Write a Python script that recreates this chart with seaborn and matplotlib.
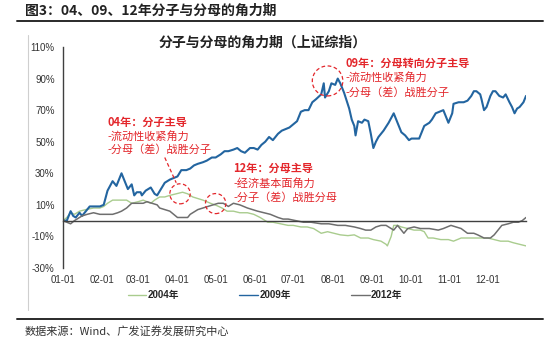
import matplotlib
matplotlib.use("Agg")
import matplotlib.pyplot as plt
import pandas as pd
import seaborn as sns
from matplotlib.patches import Ellipse
from matplotlib.lines import Line2D

# ---------------- data (day of year, cumulative return %) ----------------
series_names = ["2004年", "2009年", "2012年"]

day_2009 = [1, 4, 7, 9, 11, 14, 16, 19, 22, 25,
            30, 33, 36, 38, 40, 43, 45, 47, 50, 52,
            55, 57, 59, 62, 63, 66, 68, 70, 73, 75,
            78, 81, 85, 88, 91, 94, 98, 101, 104, 107,
            111, 114, 118, 121, 125, 128, 131, 135, 138, 141,
            144, 148, 151, 154, 157, 160, 163, 166, 170, 173,
            176, 179, 182, 185, 188, 191, 194, 197, 200, 204,
            206, 207, 210, 212, 215, 217, 219, 222, 224, 226,
            228, 230, 231, 233, 236, 238, 241, 243, 245, 247,
            249, 253, 257, 261, 264, 267, 270, 273, 275, 278,
            281, 283, 285, 289, 291, 294, 297, 300, 302, 304,
            307, 308, 312, 316, 319, 322, 324, 326, 329, 330,
            332, 334, 337, 339, 341, 344, 347, 349, 352, 354,
            356, 358, 360, 363, 365]
val_2009 = [0, 0, 6, 3, 2, 5, 3, 6, 9, 9,
            9, 10, 19, 22, 25, 22, 26, 30, 24, 20,
            23, 16, 18, 18, 16, 19, 20, 21, 17, 16,
            20, 24, 26, 27, 28, 32, 32, 33, 35, 36,
            37, 38, 40, 40, 42, 44, 44, 45, 46, 44,
            43, 46, 46, 45, 48, 50, 53, 51, 55, 57,
            58, 59, 61, 63, 69, 70, 70, 75, 77, 80,
            87, 78, 82, 87, 86, 90, 87, 81, 76, 71,
            64, 60, 54, 63, 62, 64, 63, 55, 46, 50,
            53, 57, 62, 68, 62, 56, 54, 51, 52, 52,
            52, 56, 60, 62, 64, 68, 69, 70, 66, 62,
            68, 74, 75, 75, 76, 79, 82, 82, 80, 77,
            70, 72, 79, 82, 82, 79, 78, 80, 75, 72,
            68, 71, 72, 75, 79]

day_2004 = [1, 4, 7, 10, 14, 19, 25, 30, 33, 36,
            40, 46, 51, 55, 60, 64, 70, 73, 77, 81,
            85, 90, 95, 99, 103, 107, 111, 117, 122, 126,
            130, 135, 140, 146, 151, 156, 162, 166, 172, 178,
            182, 188, 193, 198, 204, 209, 214, 219, 225, 230,
            235, 241, 245, 251, 255, 256, 259, 261, 264, 267,
            272, 277, 282, 285, 288, 292, 298, 304, 308, 314,
            319, 324, 330, 335, 340, 345, 351, 355, 360, 365]
val_2004 = [0, 2, 5, 4, 6, 7, 8, 8, 9, 11,
            13, 13, 13, 11, 12, 13, 11, 13, 15, 15,
            16, 17, 18, 17, 15, 14, 13, 11, 9.5, 8,
            6, 6, 5, 5, 4, 2, -1, -1, -2, -3,
            -3, -4, -4, -5, -8, -7, -8, -9, -9.5, -9,
            -11, -11, -12, -13, -15, -16, -10, -3, -3, -4,
            -5, -6, -6, -7, -11, -11, -12, -12, -13, -11,
            -11, -11, -11, -11, -12, -13, -13, -14, -15, -16]

day_2012 = [1, 4, 7, 10, 12, 16, 20, 25, 30, 36,
            40, 44, 47, 51, 55, 59, 64, 67, 71, 75,
            77, 81, 85, 88, 91, 95, 99, 101, 103, 107,
            111, 115, 119, 123, 127, 131, 135, 140, 146, 150,
            154, 159, 164, 170, 174, 178, 184, 190, 196, 204,
            210, 217, 223, 230, 235, 239, 243, 247, 251, 255,
            259, 261, 264, 269, 272, 277, 282, 289, 296, 300,
            306, 310, 314, 319, 324, 327, 332, 337, 340, 343,
            346, 351, 355, 359, 362, 365]
val_2012 = [0, -1, -2, 0, 1, 3, 4, 5, 4, 4,
            4, 5, 6, 8, 11, 11, 11, 12, 11, 10,
            8, 7, 6, 4, 2, 2, 2, 4, 5, 7,
            8, 9, 10, 11, 11, 9, 11, 10, 8, 7,
            6, 5, 4, 2, 1, 1, 0, -1, -1, -2,
            -2, -3, -3, -4, -5, -6, -6, -4, -3, -3,
            -5, -6, -3, -8, -5, -4, -5, -5, -6, -5,
            -3, -4, -5, -8, -8, -9, -11, -11, -9, -6,
            -3, -2, -1, -1, 0, 2]

month_starts = [1, 32, 60, 91, 121, 152, 182, 213, 244, 274, 305, 335]
month_labels = ["01-01", "02-01", "03-01", "04-01", "05-01", "06-01",
                "07-01", "08-01", "09-01", "10-01", "11-01", "12-01"]
y_ticks = [-30, -10, 10, 30, 50, 70, 90, 110]

# ---------------- style ----------------
sns.set_style("white")
plt.rcParams["font.family"] = ["Liberation Sans", "Noto Sans CJK SC"]

colors = {"2004年": "#a9cc8e", "2009年": "#2365a0", "2012年": "#6e6e6e"}
widths = {"2004年": 1.0, "2009年": 1.5, "2012年": 1.1}
red = "#e3262b"

frames = {
    "2004年": pd.DataFrame({"day": day_2004, "value": val_2004}),
    "2009年": pd.DataFrame({"day": day_2009, "value": val_2009}),
    "2012年": pd.DataFrame({"day": day_2012, "value": val_2012}),
}

fig = plt.figure(figsize=(5.5, 3.43), dpi=100)
ax = fig.add_axes([63 / 550, 1 - 268 / 343, (526 - 63) / 550, (268 - 47) / 343])

for name in series_names:
    sns.lineplot(data=frames[name], x="day", y="value", ax=ax, color=colors[name],
                 linewidth=widths[name], label=name, estimator=None, sort=False)

ax.set_xlim(1, 365)
ax.set_ylim(-30, 110)
ax.set_xlabel("")
ax.set_ylabel("")
ax.grid(False)

for s in ["top", "right"]:
    ax.spines[s].set_visible(False)
for s in ["left", "bottom"]:
    ax.spines[s].set_color("#404040")
    ax.spines[s].set_linewidth(1.0)
ax.spines["bottom"].set_position(("data", 0))

ax.set_xticks(month_starts)
ax.tick_params(axis="x", labelbottom=False, length=3, direction="out", color="#404040")
ax.set_yticks(y_ticks)
ax.set_yticklabels([f"{v}%" for v in y_ticks])
ax.tick_params(axis="y", length=3, direction="out", labelsize=7, pad=3,
               color="#404040", labelcolor="#333333")

sec = ax.secondary_xaxis("bottom")
sec.set_xticks(month_starts)
sec.set_xticklabels(month_labels)
sec.tick_params(length=0, pad=5, labelsize=7, labelcolor="#333333")
sec.spines["bottom"].set_visible(False)

# legend
handles, labels = ax.get_legend_handles_labels()
if ax.get_legend():
    ax.get_legend().remove()
leg = fig.legend(handles, labels, loc="center", bbox_to_anchor=(0.482, 1 - 295 / 343),
                 ncol=3, frameon=False, handlelength=1.9, handletextpad=0.15,
                 columnspacing=6.2, prop={"size": 7, "weight": "bold"})
for ln in leg.get_lines():
    ln.set_linewidth(1.0)

# annotations
def note(x, ys, lines):
    for i, (y, t) in enumerate(zip(ys, lines)):
        ax.text(x, y, t, color=red, fontsize=8, va="center", ha="left",
                fontweight="bold" if i == 0 else "normal",
                family=["Noto Sans CJK SC", "Liberation Sans"])

note(36, [62, 53.5, 45], ["04年：分子主导", "-流动性收紧角力", "-分母（差）战胜分子"])
note(135, [33, 23.5, 14.5], ["12年：分母主导", "-经济基本面角力", "-分子（差）战胜分母"])
note(223, [99.5, 90.5, 81], ["09年：分母转向分子主导", "-流动性收紧角力", "-分母（差）战胜分子"])

for cx, cy, w, h in [(93, 17, 16, 12.7), (121, 10.8, 16, 12.7), (209, 88.5, 24, 19)]:
    ax.add_patch(Ellipse((cx, cy), w, h, fill=False, edgecolor=red,
                         linestyle=(0, (3, 2)), linewidth=0.9, zorder=5))
ax.plot([81, 90], [40, 24], color=red, linestyle=(0, (3, 2)), linewidth=0.9)

# figure furniture
fig.text(25 / 550, 1 - 11 / 343, "图3：04、09、12年分子与分母的角力期", fontsize=10,
         fontweight="bold", va="center", ha="left", color="#222222",
         family=["Noto Sans CJK SC", "Liberation Sans"])
fig.add_artist(Line2D([17 / 550, 543 / 550], [1 - 21 / 343] * 2, color="#2a2a2a", lw=1.4))
fig.add_artist(Line2D([17 / 550, 543 / 550], [1 - 319 / 343] * 2, color="#2a2a2a", lw=1.4))
fig.add_artist(Line2D([28 / 550, 28 / 550], [1 - 35 / 343, 1 - 310 / 343], color="#cfcfcf", lw=0.8))
fig.text(263 / 550, 1 - 43 / 343, "分子与分母的角力期（上证综指）", fontsize=10,
         fontweight="bold", va="center", ha="center", color="#222222",
         family=["Noto Sans CJK SC", "Liberation Sans"])
fig.text(25 / 550, 1 - 331 / 343, "数据来源：Wind、广发证券发展研究中心", fontsize=8,
         va="center", ha="left", color="#333333",
         family=["Noto Sans CJK SC", "Liberation Sans"])

fig.savefig("out.png", dpi=100)
